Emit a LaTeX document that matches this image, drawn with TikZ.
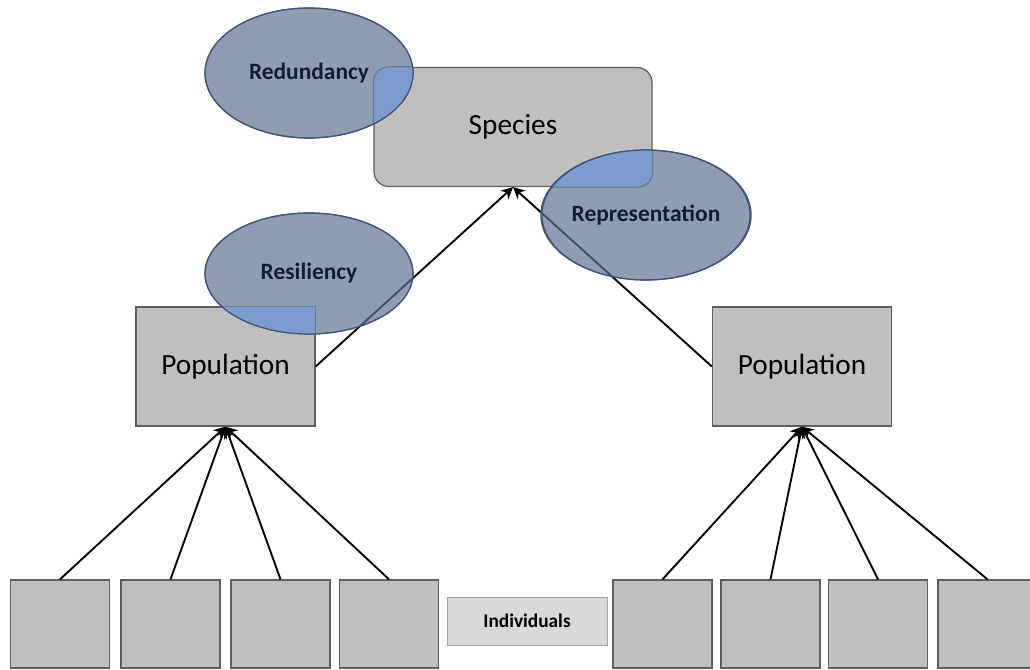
\documentclass[tikz,border=0pt]{standalone}
\usepackage{fontspec}
\setmainfont{Carlito}
\usepackage{tikz}
\usetikzlibrary{shapes,arrows.meta,positioning}
\definecolor{boxgray}{RGB}{191, 191, 191}
\definecolor{boxline}{RGB}{95, 95, 95}
\definecolor{lblgray}{RGB}{217, 217, 217}
\definecolor{lblline}{RGB}{166, 166, 166}
\definecolor{ellfill}{RGB}{94, 114, 148}
\definecolor{ellline}{RGB}{65, 85, 122}
\definecolor{overlap}{RGB}{125, 159, 211}
\definecolor{navy}{RGB}{20, 28, 48}
\tikzstyle{level} = [rectangle, draw=boxline, line width=1.1pt, fill=boxgray, text=black, text centered, font=\fontsize{25}{30}\selectfont]
\tikzstyle{indiv} = [rectangle, draw=boxline, line width=1.1pt, fill=boxgray, minimum width=2.97cm, minimum height=2.64cm]
\tikzstyle{tag} = [rectangle, draw=lblline, line width=0.7pt, fill=lblgray, text=black, font=\bfseries\fontsize{16.5}{20}\selectfont, minimum width=4.8cm, minimum height=1.44cm]
\tikzstyle{crit} = [ellipse, draw=ellline, line width=1pt, fill=ellfill, fill opacity=0.7, text opacity=1, text=navy, font=\bfseries\fontsize{20}{24}\selectfont, inner sep=0pt, minimum width=6.24cm]
\tikzstyle{link} = [draw, line width=1.6pt, -{Stealth[length=10pt,width=10pt]}]

\begin{document}
\begin{tikzpicture}[x=0.03cm, y=-0.03cm]
\useasboundingbox (0,0) rectangle (1030,670);

% levels =================================
\node[level, rounded corners=0.45cm, minimum width=8.34cm, minimum height=3.57cm] (species) at (513,127) {Species};
\node[level, minimum width=5.37cm, minimum height=3.57cm] (popL) at (225.5,366.5) {Population};
\node[level, minimum width=5.37cm, minimum height=3.57cm] (popR) at (802,366.5) {Population};

% individuals
\foreach \i/\x in {1/60, 2/170.5, 3/280.5, 4/389}
  \node[indiv] (indL\i) at (\x,624) {};
\foreach \i/\x in {1/662.5, 2/770.5, 3/878, 4/987.5}
  \node[indiv] (indR\i) at (\x,624) {};
\node[tag] (ind) at (527,621) {Individuals};

% edges
\foreach \i in {1,...,4} {
  \path[link] (indL\i.north) -- (popL.south);
  \path[link] (indR\i.north) -- (popR.south);
}
\path[link] (popL.east) -- (species.south);
\path[link] (popR.west) -- (species.south);

% criteria ===============================
\node[crit, minimum height=3.9cm] (red) at (309,73) {Redundancy};
\node[crit, minimum height=3.9cm] (rep) at (646,215) {Representation};
\node[crit, minimum height=3.63cm] (res) at (309,273.5) {Resiliency};

% overlaps
\begin{scope}
  \clip (red.center) ellipse [x radius=3.12cm, y radius=1.95cm];
  \fill[overlap, fill opacity=0.9, rounded corners=0.45cm] (species.south west) rectangle (species.north east);
  \draw[boxline, opacity=0.5, line width=1.1pt, rounded corners=0.45cm] (species.south west) rectangle (species.north east);
\end{scope}
\begin{scope}
  \clip (rep.center) ellipse [x radius=3.12cm, y radius=1.95cm];
  \fill[overlap, fill opacity=0.9, rounded corners=0.45cm] (species.south west) rectangle (species.north east);
  \draw[boxline, opacity=0.5, line width=1.1pt, rounded corners=0.45cm] (species.south west) rectangle (species.north east);
\end{scope}
\begin{scope}
  \clip (res.center) ellipse [x radius=3.12cm, y radius=1.815cm];
  \fill[overlap, fill opacity=0.9] (popL.south west) rectangle (popL.north east);
  \draw[boxline, opacity=0.5, line width=1.1pt] (popL.south west) rectangle (popL.north east);
\end{scope}
\draw[ellline, line width=1pt] (red.center) ellipse [x radius=3.12cm, y radius=1.95cm];
\draw[ellline, line width=1pt] (rep.center) ellipse [x radius=3.12cm, y radius=1.95cm];
\draw[ellline, line width=1pt] (res.center) ellipse [x radius=3.12cm, y radius=1.815cm];

\end{tikzpicture}
\end{document}
